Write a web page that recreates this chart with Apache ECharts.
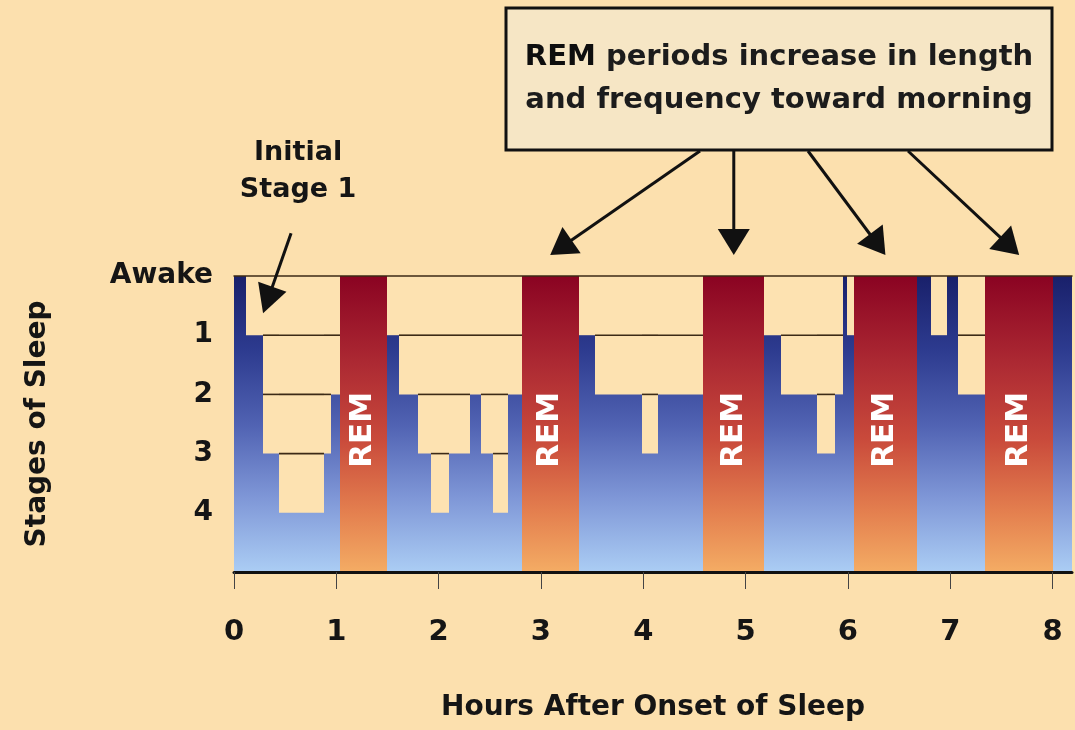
<!DOCTYPE html>
<html>
<head>
<meta charset="utf-8">
<script src="https://cdn.jsdelivr.net/npm/echarts@6/dist/echarts.min.js"></script>
<style>
html,body{margin:0;padding:0;background:#fce0ae;}
#c{width:1075px;height:730px;}
</style>
</head>
<body>
<div id="c"></div>
<script>
// ---------- data ----------
const stageLabels = ['Awake', '1', '2', '3', '4'];
const stageTicks = [0, 1, 2, 3, 4];
const hourTicks = [0, 1, 2, 3, 4, 5, 6, 7, 8];
const hourLabels = ['0', '1', '2', '3', '4', '5', '6', '7', '8'];
const hoursEnd = 8.19;
const stageFloor = 5;

// non-REM sleep segments (hours) and stage (0 = awake)
const segStart = [0, 0.121, 0.284, 0.437, 0.883, 0.951, 1.495, 1.609, 1.794, 1.925, 2.104, 2.309, 2.417, 2.531, 2.673, 3.367, 3.530, 3.986, 4.148, 5.181, 5.347, 5.696, 5.874, 5.956, 5.989, 6.673, 6.809, 6.966, 7.079, 8.007];
const segEnd   = [0.121, 0.284, 0.437, 0.883, 0.951, 1.032, 1.609, 1.794, 1.925, 2.104, 2.309, 2.417, 2.531, 2.673, 2.814, 3.530, 3.986, 4.148, 4.588, 5.347, 5.696, 5.874, 5.956, 5.989, 6.060, 6.809, 6.966, 7.079, 7.340, 8.19];
const segStage = [0, 1, 3, 4, 3, 2, 1, 2, 3, 4, 3, 2, 3, 4, 2, 1, 2, 3, 2, 1, 2, 3, 2, 0, 1, 0, 1, 0, 2, 0];

// REM periods (hours)
const remStart = [1.032, 2.814, 4.588, 6.060, 7.340];
const remEnd   = [1.495, 3.367, 5.181, 6.673, 8.007];
const remLabel = 'REM';

const noteBold = 'REM';
const noteLine1 = ' periods increase in length';
const noteLine2 = 'and frequency toward morning';
const initialText = ['Initial', 'Stage 1'];
const xName = 'Hours After Onset of Sleep';
const yName = 'Stages of Sleep';

// ---------- styling ----------
const FONT = '"DejaVu Sans"';
const BG = '#fce0ae';
const BEIGE = '#fde2b1';
const LINE = '#3c2a16';
const INK = '#151515';

const blueGrad = new echarts.graphic.LinearGradient(0, 0, 0, 1, [
  { offset: 0, color: '#19206a' },
  { offset: 0.25, color: '#2d3b8f' },
  { offset: 0.5, color: '#5062b2' },
  { offset: 0.75, color: '#7f97d7' },
  { offset: 1, color: '#abcdf4' }
]);
const remGrad = new echarts.graphic.LinearGradient(0, 0, 0, 1, [
  { offset: 0, color: '#8a0322' },
  { offset: 0.3, color: '#ad2a33' },
  { offset: 0.55, color: '#c94a3b' },
  { offset: 0.8, color: '#e4804f' },
  { offset: 1, color: '#f4ac64' }
]);

const chart = echarts.init(document.getElementById('c'), null, { renderer: 'canvas' });

const option = {
  backgroundColor: BG,
  animation: false,
  grid: { left: 234, right: 3, top: 276, bottom: 158, containLabel: false },
  xAxis: [{
    type: 'value', min: 0, max: hoursEnd, interval: 1, z: 10,
    name: xName, nameLocation: 'middle', nameGap: 122,
    nameTextStyle: { fontFamily: FONT, fontWeight: 'bold', fontSize: 28, color: INK },
    axisLine: { show: true, onZero: false, lineStyle: { color: '#111', width: 3 } },
    axisTick: { show: true, customValues: hourTicks, length: 17, lineStyle: { color: '#444', width: 1 } },
    axisLabel: {
      customValues: hourTicks, margin: 46,
      formatter: v => hourLabels[hourTicks.indexOf(v)],
      fontFamily: FONT, fontWeight: 'bold', fontSize: 29, lineHeight: 29, color: INK
    },
    splitLine: { show: false }
  }, {
    type: 'value', position: 'top', min: 0, max: hoursEnd, z: 10,
    axisLine: { show: true, onZero: false, lineStyle: { color: LINE, width: 1.5 } },
    axisTick: { show: false }, axisLabel: { show: false }, splitLine: { show: false }
  }],
  yAxis: {
    type: 'value', inverse: true, min: 0, max: stageFloor, interval: 1,
    name: yName, nameLocation: 'middle', nameGap: 182,
    nameTextStyle: { fontFamily: FONT, fontWeight: 'bold', fontSize: 28, color: INK },
    axisLine: { show: false }, axisTick: { show: false }, splitLine: { show: false },
    axisLabel: {
      customValues: stageTicks, margin: 21,
      formatter: v => stageLabels[v],
      fontFamily: FONT, fontWeight: 'bold', fontSize: 28, color: INK
    }
  },
  series: [
    {
      type: 'custom', name: 'depth', silent: true, z: 1,
      data: [[0, hoursEnd]],
      encode: { x: [0, 1] },
      renderItem: (params, api) => {
        const a = api.coord([api.value(0), 0]);
        const b = api.coord([api.value(1), stageFloor]);
        return { type: 'rect', shape: { x: a[0], y: a[1], width: b[0] - a[0], height: b[1] - a[1] }, style: { fill: blueGrad } };
      }
    },
    {
      type: 'custom', name: 'stages', silent: true, z: 2,
      data: segStart.map((s, i) => [s, segEnd[i], segStage[i]]),
      encode: { x: [0, 1], y: 2 },
      renderItem: (params, api) => {
        const s = api.value(0), e = api.value(1), st = api.value(2);
        if (st <= 0) return { type: 'group', children: [] };
        const a = api.coord([s, 0]);
        const b = api.coord([e, st]);
        const x0 = Math.round(a[0]), x1 = Math.round(b[0]);
        const children = [{
          type: 'rect', shape: { x: x0, y: a[1], width: x1 - x0, height: b[1] - a[1] },
          style: { fill: BEIGE }
        }];
        for (let k = 1; k < st; k++) {
          const y = api.coord([s, k])[1];
          children.push({ type: 'line', shape: { x1: x0, y1: y, x2: x1, y2: y }, style: { stroke: LINE, lineWidth: 1.6 } });
        }
        return { type: 'group', children };
      }
    },
    {
      type: 'custom', name: 'REM', silent: true, z: 3,
      data: remStart.map((s, i) => [s, remEnd[i]]),
      encode: { x: [0, 1] },
      renderItem: (params, api) => {
        const s = api.value(0), e = api.value(1);
        const a = api.coord([s, 0]);
        const b = api.coord([e, stageFloor]);
        const m = api.coord([(s + e) / 2, 2.6]);
        const x0 = Math.round(a[0]), x1 = Math.round(b[0]);
        return {
          type: 'group', children: [
            { type: 'rect', shape: { x: x0, y: a[1], width: x1 - x0, height: b[1] - a[1] }, style: { fill: remGrad } },
            {
              type: 'text', x: m[0], y: m[1], rotation: Math.PI / 2,
              style: { text: remLabel, fill: '#ffffff', fontFamily: FONT, fontWeight: 'bold', fontSize: 31, align: 'center', verticalAlign: 'middle' }
            }
          ]
        };
      }
    }
  ]
};
chart.setOption(option);

// ---------- annotations ----------
function arrow(x1, y1, x2, y2, headLen, headHalf, lw) {
  const dx = x2 - x1, dy = y2 - y1, L = Math.hypot(dx, dy), ux = dx / L, uy = dy / L;
  const bx = x2 - ux * headLen, by = y2 - uy * headLen;
  const px = -uy, py = ux;
  return [
    { type: 'line', z: 20, shape: { x1, y1, x2: bx + ux * 2, y2: by + uy * 2 }, style: { stroke: '#111', lineWidth: lw } },
    { type: 'polygon', z: 20, shape: { points: [[x2, y2], [bx + px * headHalf, by + py * headHalf], [bx - px * headHalf, by - py * headHalf]] }, style: { fill: '#111' } }
  ];
}

const g = [];
// note box
const boxX = 506, boxY = 8, boxW = 546, boxH = 142;
g.push({ type: 'rect', z: 20, shape: { x: boxX, y: boxY, width: boxW, height: boxH }, style: { fill: '#f6e6c5', stroke: '#111', lineWidth: 3 } });
g.push({
  type: 'text', z: 21, x: boxX + boxW / 2, y: 57,
  style: {
    text: '{b|' + noteBold + '}{r|' + noteLine1 + '}', align: 'center', verticalAlign: 'middle',
    rich: {
      b: { fontFamily: FONT, fontWeight: 'bold', fontSize: 29, fill: '#0e0e0e' },
      r: { fontFamily: FONT, fontWeight: 'bold', fontSize: 29, fill: '#1c1c1c' }
    }
  }
});
g.push({
  type: 'text', z: 21, x: boxX + boxW / 2, y: 100,
  style: { text: noteLine2, align: 'center', verticalAlign: 'middle', fontFamily: FONT, fontWeight: 'bold', fontSize: 29, fill: '#1c1c1c' }
});
// arrows from the note to REM periods
const startXs = [700, null, 808, 908];
for (let i = 1; i < remStart.length; i++) {
  const tip = chart.convertToPixel({ gridIndex: 0 }, [(remStart[i] + remEnd[i]) / 2, 0]);
  const sx = startXs[i - 1] === null ? tip[0] : startXs[i - 1];
  g.push(...arrow(sx, boxY + boxH + 1, tip[0], tip[1] - 21, 26, 16, 3));
}
// initial stage 1 label + arrow
const initTip = chart.convertToPixel({ gridIndex: 0 }, [segEnd[1], 1]);
g.push(...arrow(initTip[0] + 28, initTip[1] - 102, initTip[0], initTip[1] - 22, 28, 15, 3));
g.push({ type: 'text', z: 21, x: initTip[0] + 35, y: 153, style: { text: initialText[0], align: 'center', verticalAlign: 'middle', fontFamily: FONT, fontWeight: 'bold', fontSize: 27, fill: INK } });
g.push({ type: 'text', z: 21, x: initTip[0] + 35, y: 190, style: { text: initialText[1], align: 'center', verticalAlign: 'middle', fontFamily: FONT, fontWeight: 'bold', fontSize: 27, fill: INK } });

chart.setOption({ graphic: g });
</script>
</body>
</html>
